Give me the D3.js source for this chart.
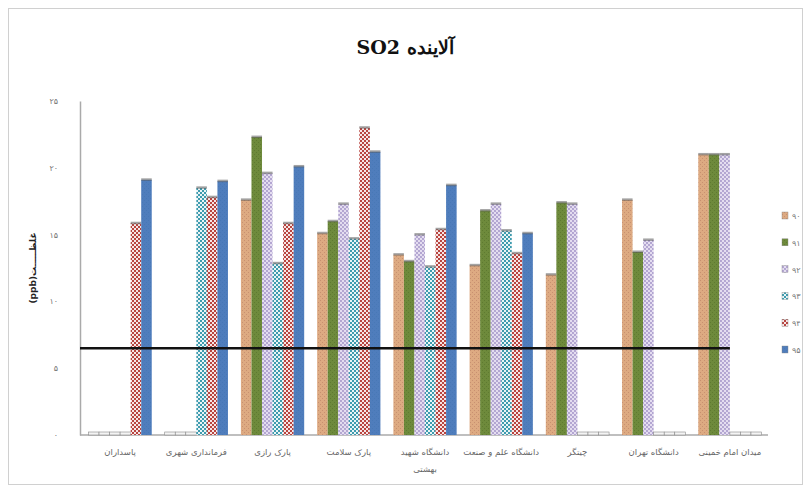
<!DOCTYPE html>
<html><head><meta charset="utf-8">
<script src="https://cdn.jsdelivr.net/npm/d3@7/dist/d3.min.js"></script>
<style>body{margin:0;background:#fff}svg{display:block}</style>
</head><body>
<script>
const categories = ["پاسداران","فرمانداری شهری","پارک رازی","پارک سلامت","دانشگاه شهید بهشتی","دانشگاه علم و صنعت","چیتگر","دانشگاه تهران","میدان امام خمینی"];
const seriesNames = ["۹۰","۹۱","۹۲","۹۳","۹۴","۹۵"];
const s90 = [0, 0, 17.6, 15.1, 13.5, 12.7, 12.0, 17.6, 21.0];
const s91 = [0, 0, 22.3, 16.0, 13.0, 16.8, 17.4, 13.7, 21.0];
const s92 = [0, 0, 19.6, 17.3, 15.0, 17.3, 17.3, 14.6, 21.0];
const s93 = [0, 18.5, 12.85, 14.7, 12.6, 15.3, 0, 0, 0];
const s94 = [15.85, 17.8, 15.85, 23.0, 15.4, 13.6, 0, 0, 0];
const s95 = [19.1, 19.0, 20.1, 21.2, 18.7, 15.1, 0, 0, 0];
const standard = 6.5;
const yTicks = [0,5,10,15,20,25];
const yTickLabels = ["۰","۵","۱۰","۱۵","۲۰","۲۵"];
const series = [s90,s91,s92,s93,s94,s95];

const W=811,H=491;
const svg=d3.select("body").append("svg").attr("width",W).attr("height",H);
const defs=svg.append("defs");
function pat(id,bg,fg,kind){
  const p=defs.append("pattern").attr("id",id).attr("patternUnits","userSpaceOnUse").attr("width",4).attr("height",4);
  p.append("rect").attr("width",4).attr("height",4).attr("fill",bg);
  if(kind==="check"){
    p.append("rect").attr("x",0).attr("y",0).attr("width",2).attr("height",2).attr("fill",fg);
    p.append("rect").attr("x",2).attr("y",2).attr("width",2).attr("height",2).attr("fill",fg);
  } else if(kind==="dot"){
    p.append("circle").attr("cx",1).attr("cy",1).attr("r",0.9).attr("fill",fg);
    p.append("circle").attr("cx",3).attr("cy",3).attr("r",0.9).attr("fill",fg);
  } else if(kind==="fine"){
    p.append("rect").attr("x",0).attr("y",0).attr("width",1).attr("height",1).attr("fill",fg);
    p.append("rect").attr("x",2).attr("y",2).attr("width",1).attr("height",1).attr("fill",fg);
  }
}
pat("p0","#DDAA82","#C89070","fine");
pat("p1","#6E8A3C","#5E7A30","fine");
pat("p2","#E4DDF0","#9C8CC4","dot");
pat("p3","#EAF4F6","#3E9BAE","check");
pat("p4","#F6E6E6","#B8443F","check");
pat("p5","#4F7DBC","#4878B6","fine");
const fills=["url(#p0)","url(#p1)","url(#p2)","url(#p3)","url(#p4)","url(#p5)"];
const legendFills=fills;

// frame
svg.append("rect").attr("x",8.5).attr("y",8.5).attr("width",794).attr("height",476).attr("fill","none").attr("stroke","#d0d0d0");

const m={l:80,r:43,t:101,b:56};
const x=d3.scaleBand().domain(categories).range([m.l+2,768]).paddingInner(0.17).paddingOuter(0.085);
const xs=d3.scaleBand().domain(d3.range(6)).range([0,x.bandwidth()]);
const y=d3.scaleLinear().domain([0,25]).range([435,101]);

// axes
const ya=svg.append("g").attr("transform",`translate(${m.l},0)`)
  .call(d3.axisLeft(y).tickValues(yTicks).tickFormat((d,i)=>yTickLabels[i]).tickSize(0).tickPadding(22));
ya.select(".domain").attr("stroke","#aaa").attr("stroke-width",1.5);
ya.selectAll("text").attr("font-family","'DejaVu Sans',sans-serif").attr("font-size",8).attr("fill","#777");

const xa=svg.append("g").attr("transform",`translate(0,${y(0)})`)
  .call(d3.axisBottom(x).tickSize(0).tickFormat(""));
xa.select(".domain").attr("stroke","#aaa").attr("stroke-width",1.5).attr("d",`M${m.l},0H768`);

// bars
categories.forEach((c,ci)=>{
  series.forEach((s,si)=>{
    const v=s[ci];
    const top=y(v);
    const h=Math.max(y(0)-top,3);
    const bx=x(c)+xs(si);
    svg.append("rect").attr("x",bx).attr("y",y(0)-h).attr("width",xs.bandwidth()).attr("height",h)
      .attr("fill",v===0?"#f4f4f4":fills[si]).attr("stroke",v===0?"#888":"none").attr("stroke-width",0.6);
    if(v>0){
      svg.append("rect").attr("x",bx).attr("y",top-1.5).attr("width",xs.bandwidth()).attr("height",2.5)
        .attr("fill","#5a5a5a").attr("opacity",0.55);
    }
  });
});

// standard line
svg.append("line").attr("x1",m.l).attr("x2",x(categories[8])+x.bandwidth()/2)
  .attr("y1",y(standard)).attr("y2",y(standard)).attr("stroke","#111").attr("stroke-width",2.5);

// x labels
categories.forEach(c=>{
  const cx=x(c)+x.bandwidth()/2;
  const lines = c==="دانشگاه شهید بهشتی" ? ["دانشگاه شهید","بهشتی"] : [c];
  lines.forEach((t,i)=>{
    svg.append("text").attr("x",cx).attr("y",455+i*17).attr("text-anchor","middle")
      .attr("direction","rtl").attr("font-family","'DejaVu Sans',sans-serif").attr("font-size",8.5)
      .attr("fill","#666").text(t);
  });
});

// title
svg.append("text").attr("x",405).attr("y",54).attr("text-anchor","middle").attr("direction","rtl")
  .attr("font-family","'DejaVu Serif',serif").attr("font-weight","bold").attr("font-size",19).attr("fill","#111")
  .text("آلاینده SO2");

// y title
svg.append("text").attr("transform","translate(36,268) rotate(-90)").attr("text-anchor","middle")
  .attr("font-family","'DejaVu Sans',sans-serif").attr("font-size",9).attr("font-weight","bold").attr("fill","#222")
  .text("(ppb)غلظـــــت");

// legend
seriesNames.forEach((n,i)=>{
  const ly=216+i*26.8;
  svg.append("rect").attr("x",782).attr("y",ly-4).attr("width",6).attr("height",7).attr("fill",legendFills[i]).attr("stroke","#888").attr("stroke-width",0.4);
  svg.append("text").attr("x",792).attr("y",ly+3).attr("font-family","'DejaVu Sans',sans-serif").attr("font-size",8).attr("fill","#777").text(n);
});
</script>
</body></html>
